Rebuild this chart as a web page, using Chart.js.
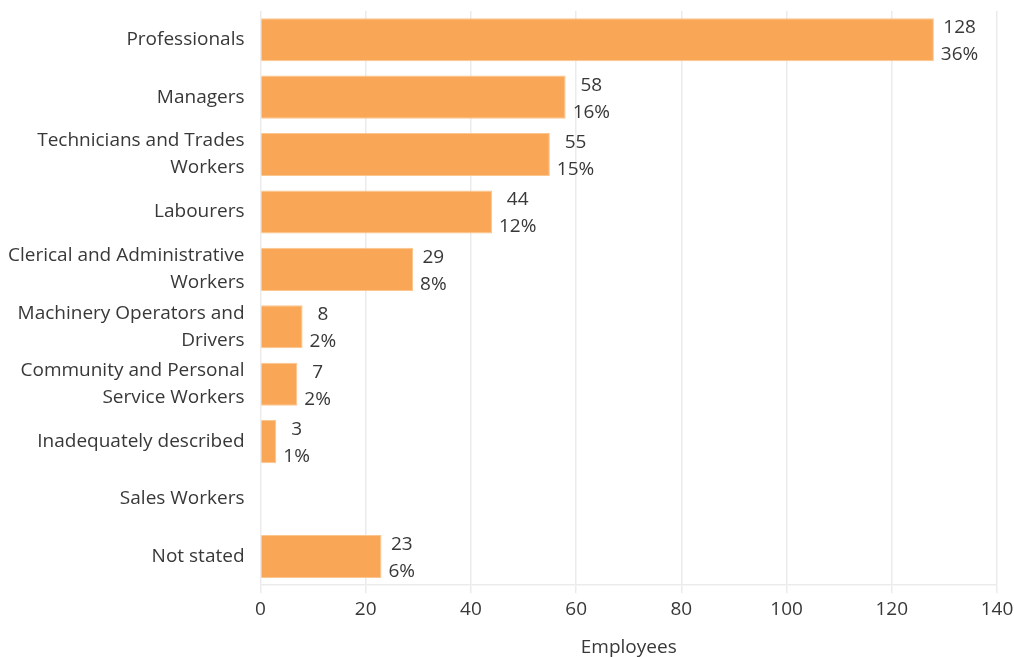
<!DOCTYPE html>
<html>
<head>
<meta charset="utf-8">
<script src="https://cdn.jsdelivr.net/npm/chart.js@4/dist/chart.umd.min.js"></script>
<style>
html,body{margin:0;padding:0;background:#fff;}
#wrap{width:1014px;height:657px;position:relative;}
</style>
</head>
<body>
<div id="wrap"><canvas id="c"></canvas></div>
<script>
const categories = [
  "Professionals",
  "Managers",
  ["Technicians and Trades", "Workers"],
  "Labourers",
  ["Clerical and Administrative", "Workers"],
  ["Machinery Operators and", "Drivers"],
  ["Community and Personal", "Service Workers"],
  "Inadequately described",
  "Sales Workers",
  "Not stated"
];
const employees = [128, 58, 55, 44, 29, 8, 7, 3, 0, 23];
const percentLabels = ["36%", "16%", "15%", "12%", "8%", "2%", "2%", "1%", "", "6%"];
const xTicks = [0, 20, 40, 60, 80, 100, 120, 140];

const FONT = "'Open Sans', sans-serif";
const TEXT = "#383838";
const FS = 19;

const labelPlugin = {
  id: 'barLabels',
  afterDatasetsDraw(chart) {
    const ctx = chart.ctx;
    const meta = chart.getDatasetMeta(0);
    ctx.save();
    ctx.font = FS + "px " + FONT;
    ctx.fillStyle = TEXT;
    ctx.textBaseline = 'middle';
    ctx.textAlign = 'center';
    meta.data.forEach((bar, i) => {
      const v = employees[i];
      if (!v) return;
      const l1 = String(v), l2 = percentLabels[i];
      const w = Math.max(ctx.measureText(l1).width, ctx.measureText(l2).width);
      const cx = bar.x + 7 + w / 2;
      ctx.fillText(l1, cx, bar.y - 12);
      ctx.fillText(l2, cx, bar.y + 15);
    });
    ctx.restore();
  }
};

new Chart(document.getElementById('c'), {
  type: 'bar',
  data: {
    labels: categories,
    datasets: [{
      data: employees,
      backgroundColor: '#F9A756',
      borderColor: '#FBC58E',
      borderWidth: 1,
      categoryPercentage: 1,
      barPercentage: 0.75
    }]
  },
  options: {
    indexAxis: 'y',
    responsive: true,
    maintainAspectRatio: false,
    animation: false,
    layout: { padding: { top: 11, right: 17, bottom: 0, left: 0 } },
    plugins: { legend: { display: false }, tooltip: { enabled: false } },
    scales: {
      x: {
        min: 0, max: 140,
        afterBuildTicks(axis) { axis.ticks = xTicks.map(v => ({ value: v })); },
        afterFit(axis) { axis.paddingRight = 0; axis.paddingLeft = 0; },
        grid: { color: '#ebebeb', lineWidth: 1.5, tickLength: 8, drawTicks: true },
        border: { color: '#ebebeb', width: 1.5 },
        ticks: { color: TEXT, font: { family: FONT, size: FS }, padding: 5 },
        title: { display: true, text: 'Employees', color: TEXT, font: { family: FONT, size: FS, lineHeight: 1.0 }, padding: { top: 12, bottom: 0 } }
      },
      y: {
        afterFit(axis) { axis.paddingTop = 0; axis.paddingBottom = 0; },
        grid: { display: false },
        border: { display: false },
        ticks: { color: TEXT, font: { family: FONT, size: FS, lineHeight: 1.42 }, padding: 8, autoSkip: false }
      }
    }
  },
  plugins: [labelPlugin]
});
</script>
</body>
</html>
